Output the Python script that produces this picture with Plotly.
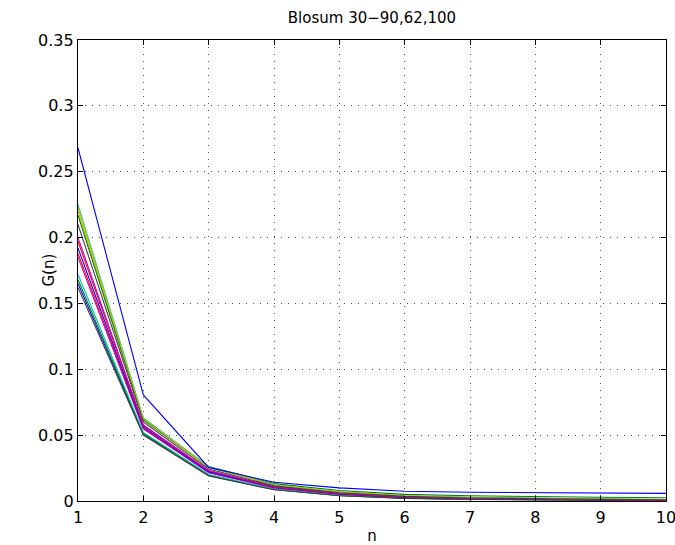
import plotly.graph_objects as go

n_values = [1, 2, 3, 4, 5, 6, 7, 8, 9, 10]

series_names = ["Blosum30", "Blosum35", "Blosum40", "Blosum45", "Blosum50",
                "Blosum55", "Blosum60", "Blosum65", "Blosum70", "Blosum75",
                "Blosum80", "Blosum85", "Blosum90", "Blosum62", "Blosum100"]

g_blosum30 = [0.165, 0.0505, 0.0193, 0.0087, 0.0042, 0.0021, 0.0013, 0.0008, 0.0005, 0.0003]
g_blosum35 = [0.168, 0.0512, 0.0197, 0.0089, 0.0043, 0.0022, 0.0013, 0.0009, 0.0006, 0.0004]
g_blosum40 = [0.188, 0.0553, 0.0218, 0.0101, 0.0052, 0.0028, 0.0018, 0.0012, 0.0009, 0.0006]
g_blosum45 = [0.172, 0.0521, 0.0201, 0.0091, 0.0045, 0.0023, 0.0014, 0.0009, 0.0006, 0.0004]
g_blosum50 = [0.185, 0.0548, 0.0215, 0.0099, 0.0051, 0.0027, 0.0017, 0.0011, 0.0008, 0.0006]
g_blosum55 = [0.220, 0.0619, 0.0255, 0.0121, 0.0067, 0.0038, 0.0026, 0.0018, 0.0014, 0.0011]
g_blosum60 = [0.162, 0.0500, 0.0190, 0.0085, 0.0040, 0.0020, 0.0012, 0.0008, 0.0005, 0.0003]
g_blosum65 = [0.192, 0.0562, 0.0223, 0.0104, 0.0054, 0.0029, 0.0019, 0.0013, 0.0009, 0.0007]
g_blosum70 = [0.217, 0.0615, 0.0262, 0.0132, 0.0080, 0.0050, 0.0040, 0.0033, 0.0028, 0.0025]
g_blosum75 = [0.197, 0.0573, 0.0229, 0.0107, 0.0056, 0.0031, 0.0020, 0.0014, 0.0010, 0.0007]
g_blosum80 = [0.225, 0.0630, 0.0260, 0.0125, 0.0070, 0.0040, 0.0028, 0.0020, 0.0015, 0.0011]
g_blosum85 = [0.200, 0.0578, 0.0232, 0.0109, 0.0058, 0.0032, 0.0021, 0.0014, 0.0010, 0.0008]
g_blosum90 = [0.223, 0.0625, 0.0258, 0.0123, 0.0069, 0.0039, 0.0027, 0.0019, 0.0014, 0.0011]
g_blosum62 = [0.210, 0.0600, 0.0243, 0.0115, 0.0063, 0.0035, 0.0023, 0.0016, 0.0012, 0.0009]
g_blosum100 = [0.268, 0.0805, 0.0255, 0.0142, 0.0100, 0.0074, 0.0066, 0.0062, 0.0060, 0.0058]

all_series = [g_blosum30, g_blosum35, g_blosum40, g_blosum45, g_blosum50,
              g_blosum55, g_blosum60, g_blosum65, g_blosum70, g_blosum75,
              g_blosum80, g_blosum85, g_blosum90, g_blosum62, g_blosum100]

# MATLAB classic color order
color_order = ["rgb(0,0,255)", "rgb(0,128,0)", "rgb(255,0,0)", "rgb(0,191,191)",
               "rgb(191,0,191)", "rgb(191,191,0)", "rgb(64,64,64)"]

y_tickvals = [0, 0.05, 0.1, 0.15, 0.2, 0.25, 0.3, 0.35]
y_ticktext = ["0", "0.05", "0.1", "0.15", "0.2", "0.25", "0.3", "0.35"]

fig = go.Figure()
for i, (name, vals) in enumerate(zip(series_names, all_series)):
    fig.add_trace(go.Scatter(
        x=n_values, y=vals, mode="lines", name=name,
        line=dict(color=color_order[i % len(color_order)], width=1.1),
        showlegend=False,
    ))

FAMILY = "DejaVu Sans, Verdana, sans-serif"
tick_font = dict(family=FAMILY, size=16, color="black")
label_font = dict(family=FAMILY, size=15, color="black")

axis_common = dict(
    showline=True, linecolor="black", linewidth=1.3, mirror="ticks",
    ticks="inside", ticklen=5, tickcolor="black", tickwidth=1,
    showgrid=True, gridcolor="rgba(0,0,0,0.7)", gridwidth=1, griddash="1px,6px",
    zeroline=False, tickfont=tick_font, automargin=False,
    ticklabeloverflow="allow",
)

fig.update_xaxes(range=[1, 10], tickvals=n_values, ticktext=[str(v) for v in n_values],
                 ticklabelstandoff=2,
                 title=dict(text="n", font=label_font, standoff=4), **axis_common)
fig.update_yaxes(range=[0, 0.35], tickvals=y_tickvals, ticktext=y_ticktext,
                 **axis_common)

# y-axis label placed between the tick labels, as in the MATLAB original
fig.add_annotation(text="G(n)", xref="paper", yref="paper", x=0, y=0.5,
                   xanchor="center", yanchor="middle", xshift=-30,
                   textangle=-90, showarrow=False, font=label_font)

fig.update_layout(
    width=675, height=545,
    margin=dict(l=78, r=9, t=40, b=44),
    paper_bgcolor="white", plot_bgcolor="white",
    font=label_font,
    title=dict(text="Blosum 30\u221290,62,100", x=0.5, xanchor="center",
               xref="paper", y=0.967, yref="container", yanchor="middle",
               font=dict(family=FAMILY, size=15, color="black")),
)

# remove the default 8px page margin so the figure fills the window exactly
fig.write_html("out.html",
               config={"displayModeBar": False},
               post_script="document.body.style.margin='0';document.body.style.overflow='hidden';")
